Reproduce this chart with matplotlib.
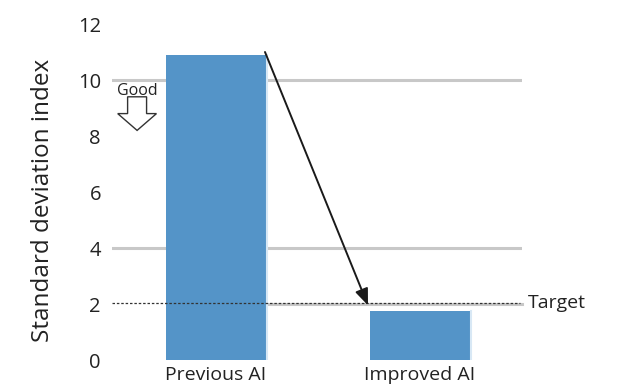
import matplotlib
matplotlib.use("Agg")
import matplotlib.pyplot as plt
from matplotlib.patches import FancyArrow

plt.rcParams['font.family'] = ['Open Sans', 'DejaVu Sans']

categories = ["Previous AI", "Improved AI"]
values = [10.9, 1.75]
target = 2.05
yticks = [0, 2, 4, 6, 8, 10, 12]
grid_levels = [4, 10]

fig = plt.figure(figsize=(6.24, 3.88), dpi=100)
ax = fig.add_axes([112/624, 1-360/388, (522-112)/624, (360-24)/388])

x = list(range(len(categories)))
ax.set_xlim(-0.51, 1.5)
ax.set_ylim(0, 12)

for g in grid_levels:
    ax.axhline(g, color='#c8c8c8', lw=2.2, zorder=0)
ax.plot([0, 1.5], [2, 2], color='#c8c8c8', lw=2.2, zorder=0, clip_on=False)

ax.bar(x, values, width=0.49, color='#5494c8', edgecolor='none', zorder=2)
# light right edge
for xi, v in zip(x, values):
    ax.plot([xi + 0.25, xi + 0.25], [0, v], color='#d8e8f5', lw=1.5, zorder=2)

ax.plot([-0.51, 1.49], [target, target], color='#333333', lw=0.9,
        linestyle=(0, (2, 1.5)), zorder=3, clip_on=False)
ax.text(1.53, target, "Target", fontsize=14, va='center', ha='left', color='#222222')

ax.annotate("", xy=(0.745, 1.95), xytext=(0.24, 11.0),
            arrowprops=dict(arrowstyle='-|>,head_length=1.0,head_width=0.4',
                            color='#1a1a1a', lw=1.4, shrinkA=0, shrinkB=0),
            zorder=4, annotation_clip=False)

ax.text(-0.387, 9.6, "Good", fontsize=11.5, ha='center', va='center', color='#222222')
arr = FancyArrow(-0.387, 9.4, 0, -1.2, width=0.093, head_width=0.19,
                 head_length=0.6, length_includes_head=True,
                 facecolor='white', edgecolor='#333333', lw=1.0, zorder=4)
ax.add_patch(arr)

ax.set_yticks(yticks)
ax.set_yticklabels([str(t) for t in yticks], fontsize=14.5, color='#222222')
ax.set_xticks(x)
ax.set_xticklabels(categories, fontsize=14, color='#222222')
ax.tick_params(axis='both', length=0, pad=8)
ax.tick_params(axis='x', pad=4)
ax.set_ylabel("Standard deviation index", fontsize=17.5, color='#222222')
ax.yaxis.set_label_coords(-0.14, 0.476)
for s in ax.spines.values():
    s.set_visible(False)

fig.savefig("out.png", dpi=100)
